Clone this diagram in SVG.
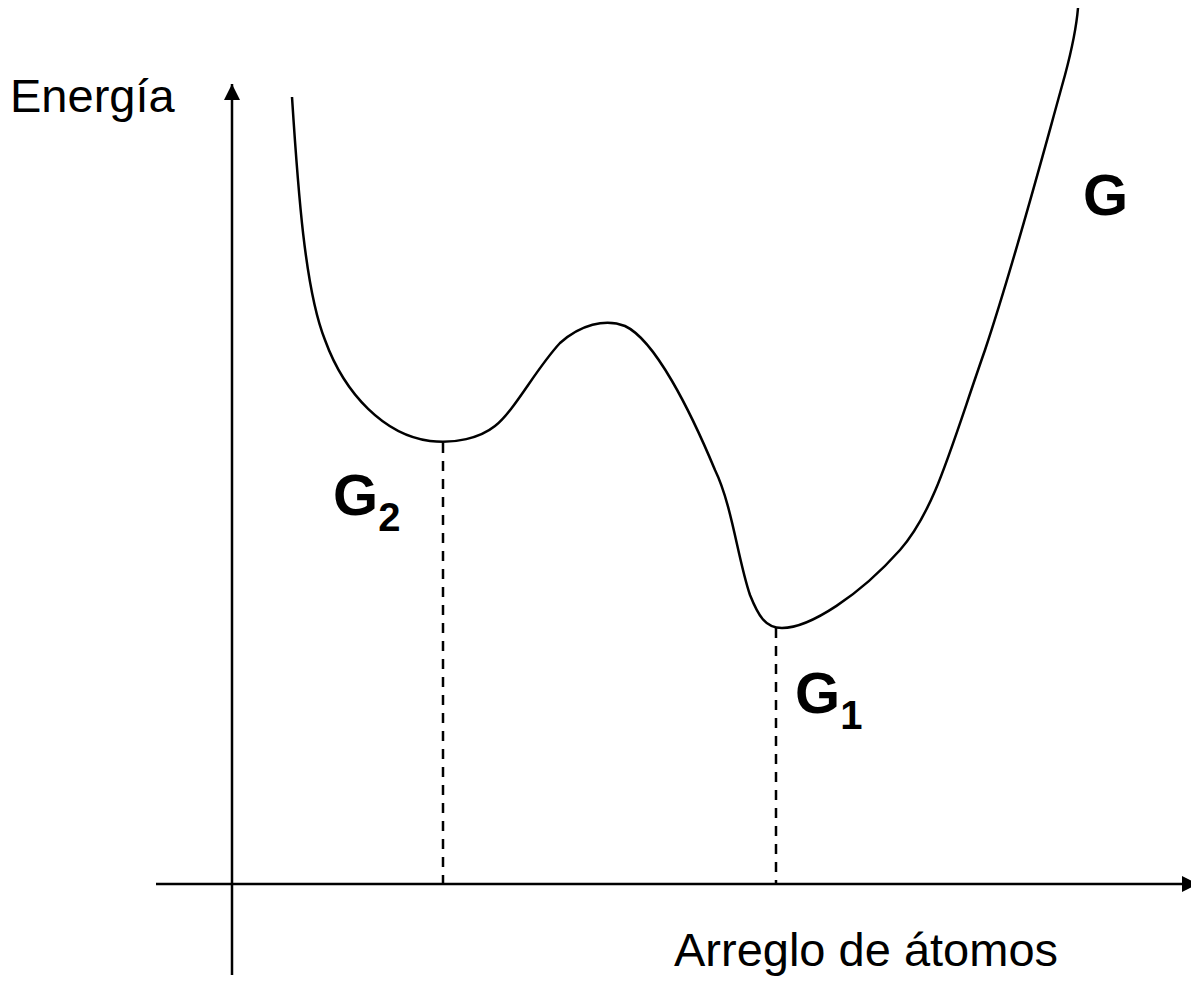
<svg xmlns="http://www.w3.org/2000/svg" width="1191" height="984" viewBox="0 0 1191 984">
<style>
.ax{stroke:#000;stroke-width:2.5;fill:none}
.cv{stroke:#000;stroke-width:2.5;fill:none}
.dash{stroke:#000;stroke-width:2.5;stroke-dasharray:10 8;fill:none}
.lbl{font-family:"Liberation Sans",Arial,sans-serif;fill:#000}
.b{font-weight:bold}
</style>
<defs>
<marker id="arr" markerWidth="6.5" markerHeight="6.5" refX="6" refY="3" orient="auto" markerUnits="strokeWidth" viewBox="0 0 6 6">
<path d="M0,0 L6,3 L0,6 Z" fill="#000"/>
</marker>
</defs>
<rect width="1191" height="984" fill="#fff"/>
<g id="connectors">
<line class="ax" x1="232" y1="975" x2="232" y2="84" marker-end="url(#arr)"/>
<line class="ax" x1="156" y1="884" x2="1198" y2="884" marker-end="url(#arr)"/>
<line class="dash" x1="443" y1="443" x2="443" y2="884"/>
<line class="dash" x1="776" y1="628" x2="776" y2="884"/>
</g>
<g id="curve">
<path class="cv" d="M292,97 C298,190 305,290 325,340 C345,395 385,435 430,441 C455,444 480,438 495,426 C515,410 535,370 560,343 C580,325 605,318 625,326 C655,340 690,410 715,470 C732,505 738,560 750,595 C758,615 765,628 782,628 C810,628 860,595 900,550 C935,510 950,450 985,350 C1015,260 1040,165 1065,75 C1073,45 1077,20 1078,8"/>
</g>
<g id="label-energia"><text class="lbl" x="10" y="112" font-size="47">Energía</text></g>
<g id="label-arreglo"><text class="lbl" x="674" y="966" font-size="47">Arreglo de átomos</text></g>
<g id="label-G"><text class="lbl b" x="1083" y="215" font-size="58">G</text></g>
<g id="label-G2"><text class="lbl b" x="333" y="515" font-size="58">G<tspan font-size="40" dy="16">2</tspan></text></g>
<g id="label-G1"><text class="lbl b" x="795" y="713" font-size="58">G<tspan font-size="40" dy="16">1</tspan></text></g>
</svg>
